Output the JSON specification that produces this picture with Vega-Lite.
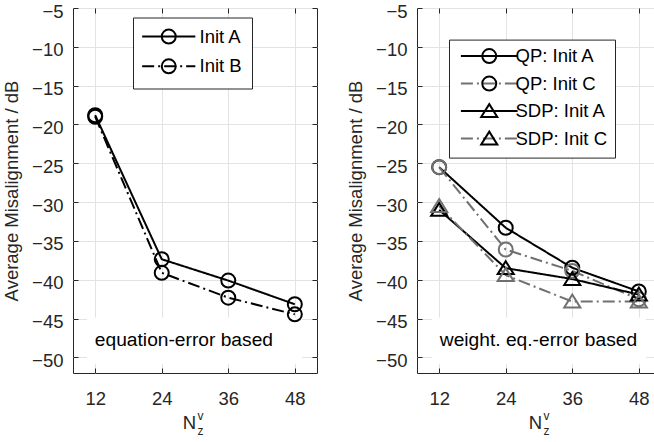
{
  "$schema": "https://vega.github.io/schema/vega-lite/v6.json",
  "background": "white",
  "padding": {"left": 2, "top": 1, "right": 0, "bottom": 0},
  "spacing": 20,
  "resolve": {
    "scale": {"strokeDash": "independent", "shape": "independent", "stroke": "independent"},
    "legend": {"strokeDash": "independent", "shape": "independent", "stroke": "independent"}
  },
  "config": {
    "font": "Liberation Sans",
    "view": {"stroke": "#262626", "strokeWidth": 1},
    "axis": {
      "domain": false,
      "labelFont": "Liberation Sans", "labelFontSize": 18.5, "labelColor": "#262626",
      "labelFlush": false, "labelOverlap": false,
      "titleFont": "Liberation Sans", "titleFontSize": 18.5, "titleFontWeight": "normal", "titleColor": "#262626",
      "tickColor": "#262626", "tickWidth": 1, "tickSize": -5,
      "gridColor": "#e3e3e3", "gridWidth": 1, "gridOpacity": 1,
      "minExtent": 0
    },
    "legend": {
      "labelFont": "Liberation Sans", "labelFontSize": 18.5, "labelColor": "black", "labelLimit": 400
    }
  },
  "hconcat": [
    {
      "width": 244,
      "height": 365,
      "data": {"values": [
        {"N": 12, "v": -18.8, "s": "Init A"},
        {"N": 24, "v": -37.35, "s": "Init A"},
        {"N": 36, "v": -40.1, "s": "Init A"},
        {"N": 48, "v": -43.15, "s": "Init A"},
        {"N": 12, "v": -19.0, "s": "Init B"},
        {"N": 24, "v": -39.1, "s": "Init B"},
        {"N": 36, "v": -42.3, "s": "Init B"},
        {"N": 48, "v": -44.45, "s": "Init B"}
      ]},
      "resolve": {"axis": {"x": "independent", "y": "independent"}, "legend": {"strokeDash": "independent", "shape": "independent"}},
      "layer": [
        {
          "data": {"values": [{"label": "equation-error based"}]},
          "mark": {"type": "rect", "fill": "white"},
          "encoding": {
            "x": {"datum": 10.5, "type": "quantitative", "scale": {"domain": [8, 52], "nice": false, "zero": false}, "axis": null},
            "x2": {"datum": 49.3},
            "y": {"datum": -44.9, "type": "quantitative", "scale": {"domain": [-52, -5], "nice": false, "zero": false}, "axis": null},
            "y2": {"datum": -50.85}
          }
        },
        {
          "data": {"values": [{"label": "equation-error based"}]},
          "mark": {"type": "text", "font": "Liberation Sans", "fontSize": 19.2, "color": "black", "align": "center", "baseline": "alphabetic"},
          "encoding": {
            "x": {"datum": 28, "type": "quantitative", "scale": {"domain": [8, 52], "nice": false, "zero": false},
              "axis": {"orient": "bottom", "labels": false, "ticks": false, "grid": false,
                "title": ["v", "z"], "titleFontSize": 12, "titleX": 124, "titleY": 37, "titleAlign": "left", "titleBaseline": "top", "titleLineHeight": 15}},
            "y": {"datum": -48.5, "type": "quantitative", "scale": {"domain": [-52, -5], "nice": false, "zero": false}, "axis": null},
            "text": {"field": "label"}
          }
        },
        {
          "mark": {"type": "line", "strokeWidth": 2, "stroke": "black"},
          "encoding": {
            "x": {"field": "N", "type": "quantitative", "scale": {"domain": [8, 52], "nice": false, "zero": false},
              "axis": {"orient": "bottom", "values": [12, 24, 36, 48], "grid": true, "labelPadding": 21.5,
                "title": "N", "titleX": 116, "titleY": 40, "titleAlign": "center", "titleBaseline": "top"}},
            "y": {"field": "v", "type": "quantitative", "scale": {"domain": [-52, -5], "nice": false, "zero": false},
              "axis": {"orient": "left", "values": [-50, -45, -40, -35, -30, -25, -20, -15, -10, -5], "grid": true,
                "labelPadding": 15, "labelOffset": 3, "title": "Average Misalignment / dB", "titlePadding": 10}},
            "strokeDash": {"field": "s", "type": "nominal", "scale": {"range": [[1, 0], [12, 4, 2, 4]]},
              "legend": {"orient": "none", "legendX": 60, "legendY": 9.5, "title": null,
                "symbolType": "M-3.8,-1.1L-3.8,-1.1M3.8,1.1L3.8,1.1M-3.8,0L3.8,0", "symbolSize": 196, "symbolStrokeWidth": 2, "symbolStrokeColor": "black",
                "symbolFillColor": "transparent", "padding": 9.85, "rowPadding": 5.7, "labelOffset": 21.5, "symbolOffset": 16.65,
                "strokeColor": "#262626", "fillColor": "white"}}
          }
        },
        {
          "mark": {"type": "point", "filled": false, "strokeWidth": 2, "size": 196, "stroke": "black", "opacity": 1},
          "encoding": {
            "x": {"field": "N", "type": "quantitative", "scale": {"domain": [8, 52], "nice": false, "zero": false},
              "axis": {"orient": "top", "values": [12, 24, 36, 48], "labels": false, "grid": false, "title": null}},
            "y": {"field": "v", "type": "quantitative", "scale": {"domain": [-52, -5], "nice": false, "zero": false},
              "axis": {"orient": "right", "values": [-50, -45, -40, -35, -30, -25, -20, -15, -10, -5], "labels": false, "grid": false, "title": null}},
            "shape": {"field": "s", "type": "nominal",
              "scale": {"domain": ["Init A", "Init B"], "range": [
                "M-3.8,-1.1L-3.8,-1.1M3.8,1.1L3.8,1.1M1,0A1,1,0,1,1,-1,0A1,1,0,1,1,1,0",
                "M-3.8,-1.1L-3.8,-1.1M3.8,1.1L3.8,1.1M1,0A1,1,0,1,1,-1,0A1,1,0,1,1,1,0"]},
              "legend": {"orient": "none", "legendX": 60, "legendY": 9.5, "title": null,
                "symbolSize": 196, "symbolStrokeWidth": 2, "symbolStrokeColor": "black", "symbolFillColor": "transparent",
                "padding": 9.85, "rowPadding": 5.7, "labelOffset": 21.5, "symbolOffset": 16.65, "labelOpacity": 0}}
          }
        }
      ]
    },
    {
      "width": 244,
      "height": 365,
      "data": {"values": [
        {"N": 12, "v": -25.5, "s": "QP: Init A"},
        {"N": 24, "v": -33.3, "s": "QP: Init A"},
        {"N": 36, "v": -38.45, "s": "QP: Init A"},
        {"N": 48, "v": -41.5, "s": "QP: Init A"},
        {"N": 12, "v": -25.5, "s": "QP: Init C"},
        {"N": 24, "v": -36.1, "s": "QP: Init C"},
        {"N": 36, "v": -38.85, "s": "QP: Init C"},
        {"N": 48, "v": -42.5, "s": "QP: Init C"},
        {"N": 12, "v": -31.0, "s": "SDP: Init A"},
        {"N": 24, "v": -38.5, "s": "SDP: Init A"},
        {"N": 36, "v": -39.9, "s": "SDP: Init A"},
        {"N": 48, "v": -41.9, "s": "SDP: Init A"},
        {"N": 12, "v": -30.5, "s": "SDP: Init C"},
        {"N": 24, "v": -39.4, "s": "SDP: Init C"},
        {"N": 36, "v": -42.8, "s": "SDP: Init C"},
        {"N": 48, "v": -42.8, "s": "SDP: Init C"}
      ]},
      "resolve": {"axis": {"x": "independent", "y": "independent"}, "legend": {"strokeDash": "independent", "shape": "independent"}},
      "layer": [
        {
          "data": {"values": [{"label": "weight. eq.-error based"}]},
          "mark": {"type": "rect", "fill": "white"},
          "encoding": {
            "x": {"datum": 10.7, "type": "quantitative", "scale": {"domain": [8, 52], "nice": false, "zero": false}, "axis": null},
            "x2": {"datum": 49.3},
            "y": {"datum": -44.9, "type": "quantitative", "scale": {"domain": [-52, -5], "nice": false, "zero": false}, "axis": null},
            "y2": {"datum": -50.85}
          }
        },
        {
          "data": {"values": [{"label": "weight. eq.-error based"}]},
          "mark": {"type": "text", "font": "Liberation Sans", "fontSize": 19.2, "color": "black", "align": "center", "baseline": "alphabetic"},
          "encoding": {
            "x": {"datum": 29.9, "type": "quantitative", "scale": {"domain": [8, 52], "nice": false, "zero": false},
              "axis": {"orient": "bottom", "labels": false, "ticks": false, "grid": false,
                "title": ["v", "z"], "titleFontSize": 12, "titleX": 126, "titleY": 37, "titleAlign": "left", "titleBaseline": "top", "titleLineHeight": 15}},
            "y": {"datum": -48.5, "type": "quantitative", "scale": {"domain": [-52, -5], "nice": false, "zero": false}, "axis": null},
            "text": {"field": "label"}
          }
        },
        {
          "mark": {"type": "line", "strokeWidth": 2},
          "encoding": {
            "x": {"field": "N", "type": "quantitative", "scale": {"domain": [8, 52], "nice": false, "zero": false},
              "axis": {"orient": "bottom", "values": [12, 24, 36, 48], "grid": true, "labelPadding": 21.5,
                "title": "N", "titleX": 118, "titleY": 40, "titleAlign": "center", "titleBaseline": "top"}},
            "y": {"field": "v", "type": "quantitative", "scale": {"domain": [-52, -5], "nice": false, "zero": false},
              "axis": {"orient": "left", "values": [-50, -45, -40, -35, -30, -25, -20, -15, -10, -5], "grid": true,
                "labelPadding": 15, "labelOffset": 3, "title": "Average Misalignment / dB", "titlePadding": 10}},
            "stroke": {"field": "s", "type": "nominal",
              "scale": {"domain": ["QP: Init A", "QP: Init C", "SDP: Init A", "SDP: Init C"], "range": ["black", "#707070", "black", "#707070"]},
              "legend": null},
            "strokeDash": {"field": "s", "type": "nominal", "scale": {"range": [[1, 0], [12, 4, 2, 4], [1, 0], [12, 4, 2, 4]]},
              "legend": {"orient": "none", "legendX": 32, "legendY": 31.6, "title": null,
                "symbolType": "M-4.05,-1.1L-4.05,-1.1M4.05,1.1L4.05,1.1M-4.05,0L4.05,0", "symbolSize": 196, "symbolStrokeWidth": 2, "symbolStrokeColor": "black",
                "symbolFillColor": "transparent", "padding": 7.25, "rowPadding": 3.5, "labelOffset": 17, "symbolOffset": 23.75,
                "strokeColor": "#262626", "fillColor": "white",
                "encode": {"symbols": {"update": {"stroke": {"signal": "indexof(datum.value, 'Init C') >= 0 ? '#707070' : 'black'"}}}}}}
          }
        },
        {
          "mark": {"type": "point", "filled": false, "strokeWidth": 2, "size": 196, "opacity": 1},
          "encoding": {
            "x": {"field": "N", "type": "quantitative", "scale": {"domain": [8, 52], "nice": false, "zero": false},
              "axis": {"orient": "top", "values": [12, 24, 36, 48], "labels": false, "grid": false, "title": null}},
            "y": {"field": "v", "type": "quantitative", "scale": {"domain": [-52, -5], "nice": false, "zero": false},
              "axis": {"orient": "right", "values": [-50, -45, -40, -35, -30, -25, -20, -15, -10, -5], "labels": false, "grid": false, "title": null}},
            "stroke": {"field": "s", "type": "nominal",
              "scale": {"domain": ["QP: Init A", "QP: Init C", "SDP: Init A", "SDP: Init C"], "range": ["black", "#707070", "black", "#707070"]},
              "legend": null},
            "shape": {"field": "s", "type": "nominal",
              "scale": {"domain": ["QP: Init A", "QP: Init C", "SDP: Init A", "SDP: Init C"], "range": [
                "M-4.05,-1.1L-4.05,-1.1M4.05,1.1L4.05,1.1M1,0A1,1,0,1,1,-1,0A1,1,0,1,1,1,0",
                "M-4.05,-1.1L-4.05,-1.1M4.05,1.1L4.05,1.1M1,0A1,1,0,1,1,-1,0A1,1,0,1,1,1,0",
                "M-4.05,-1.1L-4.05,-1.1M4.05,1.1L4.05,1.1M0,-1L1.15,0.85L-1.15,0.85Z",
                "M-4.05,-1.1L-4.05,-1.1M4.05,1.1L4.05,1.1M0,-1L1.15,0.85L-1.15,0.85Z"]},
              "legend": {"orient": "none", "legendX": 32, "legendY": 31.6, "title": null,
                "symbolSize": 196, "symbolStrokeWidth": 2, "symbolStrokeColor": "black", "symbolFillColor": "transparent",
                "padding": 7.25, "rowPadding": 3.5, "labelOffset": 17, "symbolOffset": 23.75, "labelOpacity": 0,
                "encode": {"symbols": {"update": {"stroke": {"signal": "indexof(datum.value, 'Init C') >= 0 ? '#707070' : 'black'"}}}}}}
          }
        }
      ]
    }
  ]
}
